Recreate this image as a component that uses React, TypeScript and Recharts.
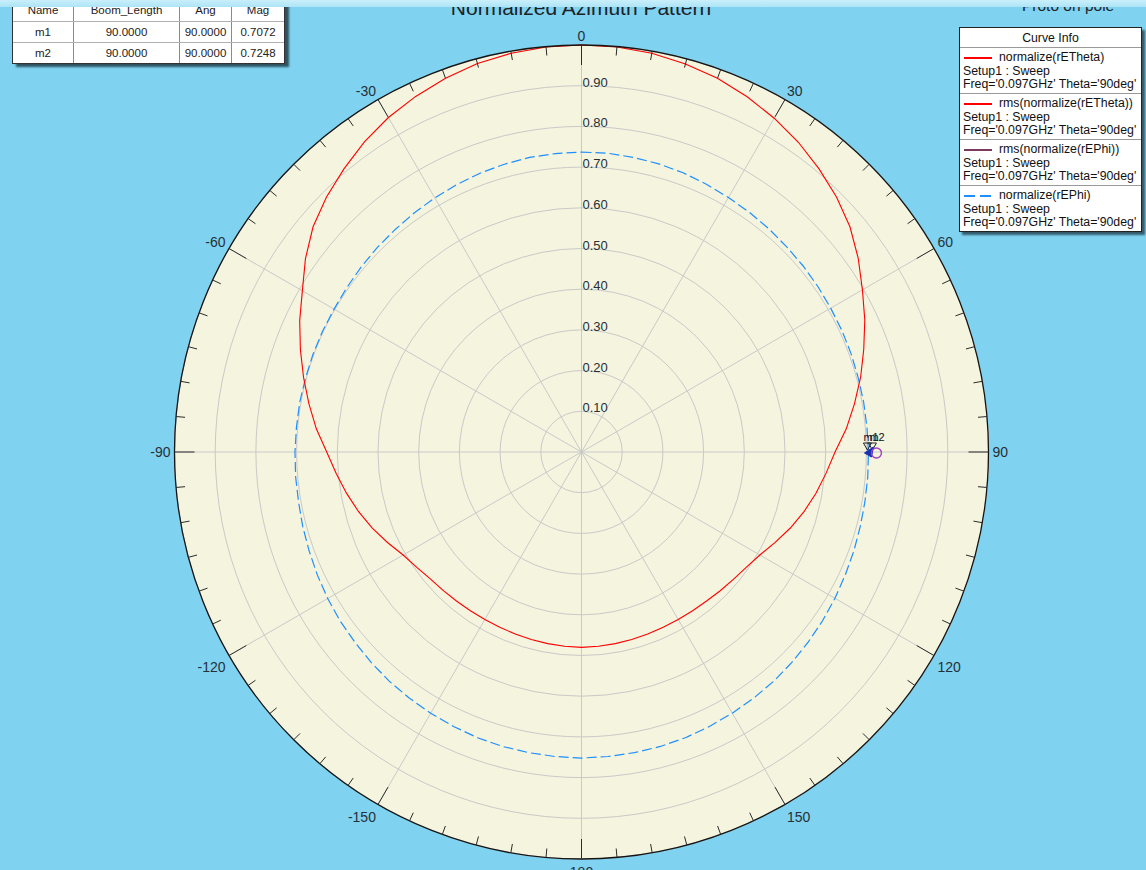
import React from 'react';
import { RadarChart, Radar, PolarGrid, PolarAngleAxis, PolarRadiusAxis } from 'recharts';

// ---------- data ----------
const ANGLES = [0, 5, 10, 15, 20, 25, 30, 35, 40, 45, 50, 55, 60, 65, 70, 75, 80, 85, 90, 95, 100, 105, 110, 115,
  120, 125, 130, 135, 140, 145, 150, 155, 160, 165, 170, 175, 180, 185, 190, 195, 200, 205, 210, 215, 220, 225, 230,
  235, 240, 245, 250, 255, 260, 265, 270, 275, 280, 285, 290, 295, 300, 305, 310, 315, 320, 325, 330, 335, 340, 345, 350, 355];
// normalize(rETheta)
const RETHETA = [
  1.0, 0.999, 0.995, 0.987, 0.977, 0.963, 0.947, 0.929, 0.908, 0.886, 0.861, 0.83,
  0.797, 0.768, 0.738, 0.71, 0.681, 0.653, 0.623, 0.603, 0.585, 0.566, 0.546, 0.525,
  0.506, 0.494, 0.487, 0.482, 0.478, 0.476, 0.475, 0.475, 0.476, 0.477, 0.478, 0.479,
  0.48, 0.479, 0.478, 0.477, 0.476, 0.475, 0.475, 0.476, 0.478, 0.481, 0.485, 0.494,
  0.506, 0.526, 0.547, 0.567, 0.586, 0.605, 0.626, 0.654, 0.68, 0.707, 0.735, 0.764,
  0.792, 0.828, 0.861, 0.886, 0.908, 0.93, 0.949, 0.964, 0.977, 0.988, 0.995, 0.999];
// normalize(rEPhi)
const REPHI = [
  0.737, 0.737, 0.735, 0.733, 0.73, 0.726, 0.722, 0.719, 0.716, 0.713, 0.711, 0.709,
  0.707, 0.706, 0.705, 0.704, 0.704, 0.704, 0.705, 0.706, 0.707, 0.709, 0.712, 0.715,
  0.719, 0.723, 0.727, 0.731, 0.735, 0.738, 0.741, 0.744, 0.747, 0.749, 0.75, 0.751,
  0.752, 0.751, 0.75, 0.749, 0.747, 0.744, 0.741, 0.738, 0.735, 0.731, 0.727, 0.724,
  0.72, 0.716, 0.712, 0.709, 0.706, 0.705, 0.704, 0.703, 0.703, 0.702, 0.702, 0.702,
  0.702, 0.704, 0.707, 0.71, 0.713, 0.717, 0.721, 0.725, 0.729, 0.732, 0.735, 0.736];

const ANGLE_TICKS = ANGLES;
const SPOKE_ANGLES = [0, 30, 60, 90, 120, 150, 180, 210, 240, 270, 300, 330];
const RADIUS_TICKS = [0, 0.1, 0.2, 0.3, 0.4, 0.5, 0.6, 0.7, 0.8, 0.9, 1.0];

const MARKER_TABLE_HEAD = ['Name', 'Boom_Length', 'Ang', 'Mag'];
const MARKER_ROWS = [
  ['m1', '90.0000', '90.0000', '0.7072'],
  ['m2', '90.0000', '90.0000', '0.7248'],
];
const MARKER_ANGLE = 90;

const LEGEND_ITEMS = [
  { name: 'normalize(rETheta)', color: '#ff0000', dash: false },
  { name: 'rms(normalize(rETheta))', color: '#ff0000', dash: false },
  { name: 'rms(normalize(rEPhi))', color: '#7a3a5e', dash: false },
  { name: 'normalize(rEPhi)', color: '#1e8fff', dash: true },
];
const LEGEND_SUB1 = 'Setup1 : Sweep';
const LEGEND_SUB2 = "Freq='0.097GHz' Theta='90deg'";

// ---------- layout ----------
const W = 1146;
const H = 870;
const CX = 581.5;
const CY = 452;
const R = 407;
const FONT = '"Liberation Sans", Arial, Helvetica, sans-serif';
const TEXT = '#263038';

const data = ANGLES.map((a, i) => ({ angle: a, rETheta: RETHETA[i], rEPhi: REPHI[i] }));

const AngleTick = (props: any) => {
  const v = Number(props.payload.value);
  const coord = Number(props.payload.coordinate);
  const rad = (-coord * Math.PI) / 180;
  const dx = Math.cos(rad);
  const dy = Math.sin(rad);
  const major = v % 30 === 0;
  const len = major ? 20 : 9;
  const label = String(v > 180 ? v - 360 : v);
  const w = label.replace('-', '').length * 7.8 + (label.startsWith('-') ? 4.7 : 0);
  const gap = 4;
  const px = CX + (R + gap) * dx;
  const py = CY + (R + gap) * dy;
  const tx = px + (Math.abs(dx) > 0.05 ? Math.sign(dx) * w / 2 : 0);
  const ty = py + (Math.abs(dy) > 0.05 ? (dy > 0 ? 9 : -5) : 0);
  return (
    <g>
      <line x1={CX + R * dx} y1={CY + R * dy} x2={CX + (R - len) * dx} y2={CY + (R - len) * dy}
        stroke="#2b2b2b" strokeWidth={1} />
      {major && (
        <text x={tx} y={ty} textAnchor="middle" dominantBaseline="central"
          fontFamily={FONT} fontSize={14} fill={TEXT}>{label}</text>
      )}
    </g>
  );
};

const RadiusTick = (props: any) => {
  const v = Number(props.payload.value);
  if (v <= 0 || v >= 1) return <g />;
  return (
    <text x={props.x + 1} y={props.y + 1} textAnchor="start" fontFamily={FONT} fontSize={13} fill={TEXT}>
      {v.toFixed(2)}
    </text>
  );
};

const markerIndex = ANGLES.indexOf(MARKER_ANGLE);

const MarkerDot = (props: any) => {
  if (props.index !== markerIndex) return <g key={`d-${props.index}`} />;
  const x = props.cx;
  const y = props.cy;
  return (
    <g key={`d-${props.index}`}>
      <text x={x - 5} y={y - 11} fontFamily={FONT} fontSize={11} fill="#111">{MARKER_ROWS[0][0]}</text>
      <text x={x + 1} y={y - 11} fontFamily={FONT} fontSize={11} fill="#111">{MARKER_ROWS[1][0]}</text>
      <polygon points={`${x - 5},${y - 9} ${x + 3},${y - 9} ${x - 1},${y - 2}`} fill="none" stroke="#222" strokeWidth={1} />
      <polygon points={`${x},${y - 9} ${x + 8},${y - 9} ${x + 4},${y - 2}`} fill="none" stroke="#222" strokeWidth={1} />
      <polygon points={`${x - 4},${y + 1} ${x + 5},${y - 5} ${x + 3},${y + 5}`} fill="#1a2fb0" stroke="#1a2fb0" />
      <circle cx={x + 8} cy={y + 1} r={5} fill="none" stroke="#a040c0" strokeWidth={1.4} />
    </g>
  );
};

const cell = (w: number, h: number, last: boolean): React.CSSProperties => ({
  width: w, height: h, boxSizing: 'border-box', display: 'flex', alignItems: 'center', justifyContent: 'center',
  borderRight: last ? 'none' : '1px solid #8a8a8a',
});

const COL_W = [61, 106, 52, 52];

export default function App() {
  return (
    <div style={{ position: 'absolute', left: 0, top: 0, width: W, height: H, background: '#7fd3f1', overflow: 'hidden', fontFamily: FONT }}>
      {/* plot background */}
      <div style={{ position: 'absolute', left: CX - R, top: CY - R, width: 2 * R, height: 2 * R, borderRadius: '50%', background: '#f5f4de' }} />
      <div style={{ position: 'absolute', left: 0, top: 0 }}>
        <RadarChart width={W} height={H} data={data} cx={CX} cy={CY} outerRadius={R} innerRadius={0}
          startAngle={90} endAngle={-270} margin={{ top: 0, right: 0, bottom: 0, left: 0 }}>
          <PolarGrid gridType="circle" polarAngles={SPOKE_ANGLES.map((a) => 90 - a)} stroke="#c9c9c9" strokeWidth={1} />
          <PolarRadiusAxis angle={90} type="number" domain={[0, 1]} ticks={RADIUS_TICKS as any} tick={RadiusTick}
            axisLine={false} tickLine={false} />
          <PolarAngleAxis dataKey="angle" type="number" domain={[0, 360]} ticks={ANGLE_TICKS as any} tick={AngleTick}
            tickLine={false} axisLineType="circle" axisLine={{ stroke: '#151515', strokeWidth: 1.3 }} />
          <Radar dataKey="rEPhi" stroke="#1e8fff" strokeWidth={1.2} strokeDasharray="10 4" fill="none" fillOpacity={0}
            dot={MarkerDot} isAnimationActive={false} />
          <Radar dataKey="rETheta" stroke="#ff0000" strokeWidth={1.1} fill="none" fillOpacity={0} dot={false}
            isAnimationActive={false} />
        </RadarChart>
      </div>

      {/* title */}
      <div style={{ position: 'absolute', left: 0, width: 1162, top: -4, textAlign: 'center', fontSize: 21, color: '#1e2226' }}>
        Normalized Azimuth Pattern
      </div>
      <div style={{ position: 'absolute', left: 1022, top: -3, fontSize: 15.5, color: '#1e2226', whiteSpace: 'nowrap' }}>
        Proto on pole
      </div>

      {/* marker table */}
      <div style={{ position: 'absolute', left: 12, top: -2, border: '1px solid #333', background: '#fff',
        boxShadow: '4px 3px 2px rgba(20,40,50,0.75)', fontSize: 11.5, color: '#222' }}>
        {[MARKER_TABLE_HEAD, ...MARKER_ROWS].map((row, ri) => (
          <div key={ri} style={{ display: 'flex', borderTop: ri === 0 ? 'none' : '1px solid #b0b0b0' }}>
            {row.map((t, ci) => (
              <div key={ci} style={cell(COL_W[ci], ri === 0 ? 22 : 20, ci === row.length - 1)}>{t}</div>
            ))}
          </div>
        ))}
      </div>

      {/* legend */}
      <div style={{ position: 'absolute', left: 959, top: 27, width: 183, border: '1px solid #222', background: '#fff',
        boxShadow: '3px 3px 2px rgba(20,40,50,0.7)', boxSizing: 'border-box', color: '#111', fontSize: 12.3 }}>
        <div style={{ height: 19, display: 'flex', alignItems: 'center', justifyContent: 'center', borderBottom: '1px solid #999' }}>
          Curve Info
        </div>
        {LEGEND_ITEMS.map((it, i) => (
          <div key={i} style={{ height: i === 3 ? 45 : 46, boxSizing: 'border-box', borderBottom: i === 3 ? 'none' : '1px solid #999',
            padding: '3px 0 0 3px', lineHeight: '13.6px', whiteSpace: 'nowrap' }}>
            <div style={{ display: 'flex', alignItems: 'center' }}>
              <svg width={36} height={10} style={{ flex: 'none' }}>
                <line x1={1} y1={5} x2={29} y2={5} stroke={it.color} strokeWidth={2} strokeDasharray={it.dash ? '11 5' : undefined} />
              </svg>
              <span>{it.name}</span>
            </div>
            <div>{LEGEND_SUB1}</div>
            <div>{LEGEND_SUB2}</div>
          </div>
        ))}
      </div>

      {/* top light band */}
      <div style={{ position: 'absolute', left: 0, top: 0, width: W, height: 7, background: 'linear-gradient(#c9effb, #ade4f7)' }} />
    </div>
  );
}
